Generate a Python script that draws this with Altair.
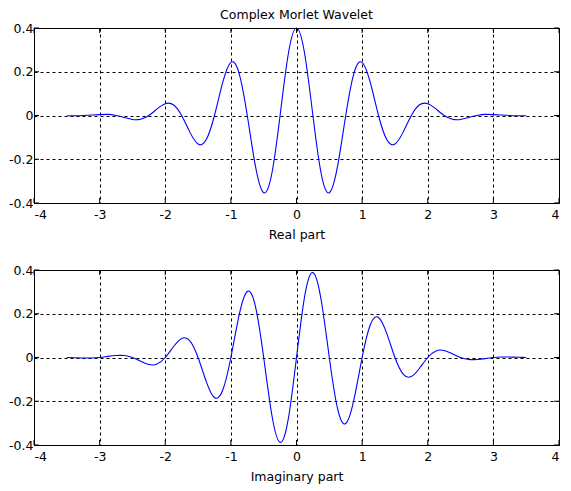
import altair as alt
import pandas as pd

x_vals = [-3.5, -3.375, -3.25, -3.125, -3.0, -2.875, -2.75, -2.625, -2.5, -2.375,
          -2.25, -2.125, -2.0, -1.875, -1.75, -1.625, -1.5, -1.375, -1.25, -1.125,
          -1.0, -0.875, -0.75, -0.625, -0.5, -0.375, -0.25, -0.125, 0.0,
          0.125, 0.25, 0.375, 0.5, 0.625, 0.75, 0.875, 1.0, 1.125, 1.25,
          1.375, 1.5, 1.625, 1.75, 1.875, 2.0, 2.125, 2.25, 2.375, 2.5,
          2.625, 2.75, 2.875, 3.0, 3.125, 3.25, 3.375, 3.5]

real_vals = [-0.001, -0.001, 0.0, 0.002, 0.004, 0.005, 0.0, -0.009, -0.018, -0.017,
             0.0, 0.030, 0.054, 0.049, 0.0, -0.076, -0.130, -0.110, 0.0, 0.150,
             0.243, 0.193, 0.0, -0.233, -0.353, -0.264, 0.0, 0.281, 0.400,
             0.281, 0.0, -0.264, -0.353, -0.233, 0.0, 0.193, 0.243, 0.150, 0.0,
             -0.110, -0.130, -0.076, 0.0, 0.049, 0.054, 0.030, 0.0, -0.017, -0.018,
             -0.009, 0.0, 0.005, 0.004, 0.002, 0.0, -0.001, -0.001]

imag_vals = [0.0, -0.001, -0.002, -0.002, 0.0, 0.005, 0.009, 0.009, 0.0, -0.017,
             -0.032, -0.030, 0.0, 0.049, 0.087, 0.076, 0.0, -0.110, -0.183, -0.150,
             0.0, 0.193, 0.302, 0.233, 0.0, -0.264, -0.388, -0.281, 0.0,
             0.281, 0.388, 0.264, 0.0, -0.233, -0.302, -0.193, 0.0, 0.150, 0.183,
             0.110, 0.0, -0.076, -0.087, -0.049, 0.0, 0.030, 0.032, 0.017, 0.0,
             -0.009, -0.009, -0.005, 0.0, 0.002, 0.002, 0.001, 0.0]

x_ticks = [-4, -3, -2, -1, 0, 1, 2, 3, 4]
y_ticks = [-0.4, -0.2, 0, 0.2, 0.4]

title_text = "Complex Morlet Wavelet"
x_titles = ["Real part", "Imaginary part"]

FONT = "DejaVu Sans"
FS = 12.5
W, H = 525, 175

df = pd.DataFrame({"x": x_vals, "real": real_vals, "imag": imag_vals})
xt = pd.DataFrame({"t": x_ticks})
yt = pd.DataFrame({"v": y_ticks})

label_expr = "replace(datum.label, '\u2212', '-')"


def panel(field, xtitle, title=None):
    xs = alt.Scale(domain=[-4, 4], nice=False, zero=False)
    ys = alt.Scale(domain=[-0.4, 0.4], nice=False, zero=False)
    line = alt.Chart(df).mark_line(color="#0000ff", strokeWidth=1.1, interpolate="natural").encode(
        x=alt.X("x:Q", scale=xs, title=xtitle,
                axis=alt.Axis(values=x_ticks, grid=True, gridColor="black", gridDash=[3, 3],
                              gridOpacity=1, gridWidth=1, ticks=False, domain=False,
                              labelPadding=5, labelExpr=label_expr, titlePadding=8,
                              labelFont=FONT, labelFontSize=FS, labelColor="black",
                              titleFont=FONT, titleFontSize=FS, titleFontWeight="normal",
                              titleColor="black")),
        y=alt.Y(field + ":Q", scale=ys, title=None,
                axis=alt.Axis(values=y_ticks, grid=True, gridColor="black", gridDash=[3, 3],
                              gridOpacity=1, gridWidth=1, ticks=False, domain=False,
                              labelPadding=1, format=".1~f", labelExpr=label_expr,
                              labelFont=FONT, labelFontSize=FS, labelColor="black")),
    )
    tb = alt.Chart(xt).mark_rule(color="black", strokeWidth=1).encode(
        x=alt.X("t:Q", scale=xs, axis=None), y=alt.value(0), y2=alt.value(5))
    bb = alt.Chart(xt).mark_rule(color="black", strokeWidth=1).encode(
        x=alt.X("t:Q", scale=xs, axis=None), y=alt.value(H), y2=alt.value(H - 5))
    lt = alt.Chart(yt).mark_rule(color="black", strokeWidth=1).encode(
        y=alt.Y("v:Q", scale=ys, axis=None), x=alt.value(0), x2=alt.value(5))
    rt = alt.Chart(yt).mark_rule(color="black", strokeWidth=1).encode(
        y=alt.Y("v:Q", scale=ys, axis=None), x=alt.value(W), x2=alt.value(W - 5))
    ch = alt.layer(line, tb, bb, lt, rt).resolve_axis(x="independent", y="independent").properties(width=W, height=H)
    if title:
        ch = ch.properties(title=alt.Title(title, font=FONT, fontSize=FS, fontWeight="normal",
                                           color="black", anchor="middle", frame="group",
                                           offset=1))
    return ch


chart = alt.vconcat(
    panel("real", x_titles[0], title_text),
    panel("imag", x_titles[1]),
    spacing=21,
).properties(padding={"left": 0, "top": 0, "right": 0, "bottom": 0}).configure_view(
    stroke="black", strokeWidth=1
)

chart.save("out.html", embed_options={"renderer": "svg", "actions": False})
